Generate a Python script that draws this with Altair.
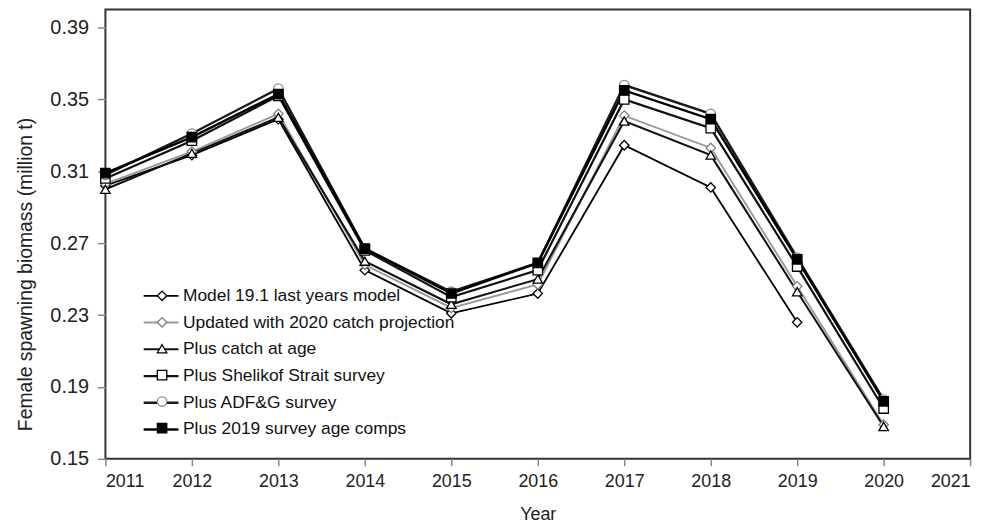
import altair as alt
import pandas as pd

years = list(range(2011, 2021))
series_names = [
    "Model 19.1 last years model",
    "Updated with 2020 catch projection",
    "Plus catch at age",
    "Plus Shelikof Strait survey",
    "Plus ADF&G survey",
    "Plus 2019 survey age comps",
]
model_191 = [0.302, 0.319, 0.339, 0.255, 0.231, 0.242, 0.3245, 0.301, 0.226, None]
updated_catch = [0.303, 0.321, 0.342, 0.258, 0.234, 0.247, 0.341, 0.323, 0.246, 0.169]
plus_caa = [0.300, 0.320, 0.340, 0.260, 0.236, 0.250, 0.338, 0.319, 0.243, 0.168]
plus_shelikof = [0.306, 0.327, 0.352, 0.266, 0.240, 0.255, 0.350, 0.334, 0.257, 0.178]
plus_adfg = [0.308, 0.331, 0.356, 0.267, 0.243, 0.259, 0.358, 0.342, 0.262, 0.183]
plus_2019_comps = [0.309, 0.329, 0.353, 0.267, 0.242, 0.259, 0.355, 0.339, 0.261, 0.182]

y_ticks = [0.15, 0.19, 0.23, 0.27, 0.31, 0.35, 0.39]
x_ticks = list(range(2011, 2022))

# styles
line_colors = ["#000000", "#9a9a9a", "#111111", "#111111", "#1a1a1a", "#000000"]
line_widths = [1.8, 2.5, 1.8, 1.8, 2.0, 3.0]
marker_keys = ["m0", "m1", "m2", "m3", "m4", "m5"]
marker_shapes = ["diamond", "diamond", "triangle-up", "square", "circle", "square"]
marker_strokes = ["#000000", "#808080", "#000000", "#000000", "#8a8a8a", "#000000"]
marker_fills = ["#ffffff", "#ffffff", "#ffffff", "#ffffff", "#ffffff", "#000000"]
marker_sizes = [90, 90, 100, 144, 45, 81]

all_values = [model_191, updated_catch, plus_caa, plus_shelikof, plus_adfg, plus_2019_comps]
rows = []
for name, key, vals in zip(series_names, marker_keys, all_values):
    for yr, v in zip(years, vals):
        if v is not None:
            rows.append({"year": yr, "value": v, "series": name, "marker": key})
df = pd.DataFrame(rows)

FONT = "Liberation Sans"

x_enc = alt.X("year:Q", scale=alt.Scale(domain=[2011, 2021], nice=False, zero=False),
              axis=alt.Axis(values=x_ticks, format="d", title="Year"))
y_enc = alt.Y("value:Q", scale=alt.Scale(domain=[0.15, 0.40], nice=False, zero=False),
              axis=alt.Axis(values=y_ticks, format=".2f", title="Female spawning biomass (million t)"))

line_legend = alt.Legend(
    orient="none", legendX=37, legendY=280, title=None, symbolType="stroke",
    symbolSize=1225, clipHeight=16, rowPadding=8.9, padding=0,
    labelFont=FONT, labelFontSize=17.5, labelColor="#111111", labelOffset=3,
    labelLimit=0, symbolStrokeWidth=2.2,
)
point_legend = alt.Legend(
    orient="none", legendX=49, legendY=280, title=None,
    clipHeight=16, rowPadding=10.6, padding=0,
    labelFont=FONT, labelFontSize=16, labelExpr="''", symbolStrokeWidth=1.3,
)

lines = alt.Chart(df).mark_line().encode(
    x=x_enc,
    y=y_enc,
    color=alt.Color("series:N", scale=alt.Scale(domain=series_names, range=line_colors),
                    legend=line_legend),
    strokeWidth=alt.StrokeWidth("series:N", scale=alt.Scale(domain=series_names, range=line_widths),
                                legend=None),
    detail="series:N",
)

points = alt.Chart(df).mark_point(filled=False, strokeWidth=1.3, opacity=1).encode(
    x=x_enc,
    y=y_enc,
    shape=alt.Shape("marker:N", scale=alt.Scale(domain=marker_keys, range=marker_shapes),
                    legend=point_legend),
    stroke=alt.Stroke("marker:N", scale=alt.Scale(domain=marker_keys, range=marker_strokes),
                      legend=point_legend),
    fill=alt.Fill("marker:N", scale=alt.Scale(domain=marker_keys, range=marker_fills),
                  legend=point_legend),
    size=alt.Size("marker:N", scale=alt.Scale(domain=marker_keys, range=marker_sizes),
                  legend=point_legend),
)

chart = alt.layer(lines, points).properties(
    width=870, height=452,
    autosize=alt.AutoSizeParams(type="none"),
    padding={"left": 98, "top": 0, "right": 24, "bottom": 67},
).configure_view(
    stroke="#333333", strokeWidth=2,
).configure_axis(
    labelFont=FONT, titleFont=FONT, labelFontSize=18, titleFontSize=18,
    labelColor="#222222", titleColor="#222222", titleFontWeight="normal",
    tickColor="#888888", tickWidth=1.5, domain=False, grid=False,
).configure_axisY(
    tickSize=8, labelPadding=9, labelFontSize=20, titleFontSize=19.5,
    titleAngle=-90, titleX=-80, titleY=266,
    titleAlign="center", titleBaseline="middle",
).configure_axisX(
    tickSize=7, labelPadding=7, titleX=435, titleY=56, titleBaseline="middle",
    titleAlign="center",
)

chart.save("out.html", embed_options={"renderer": "svg", "actions": False})
